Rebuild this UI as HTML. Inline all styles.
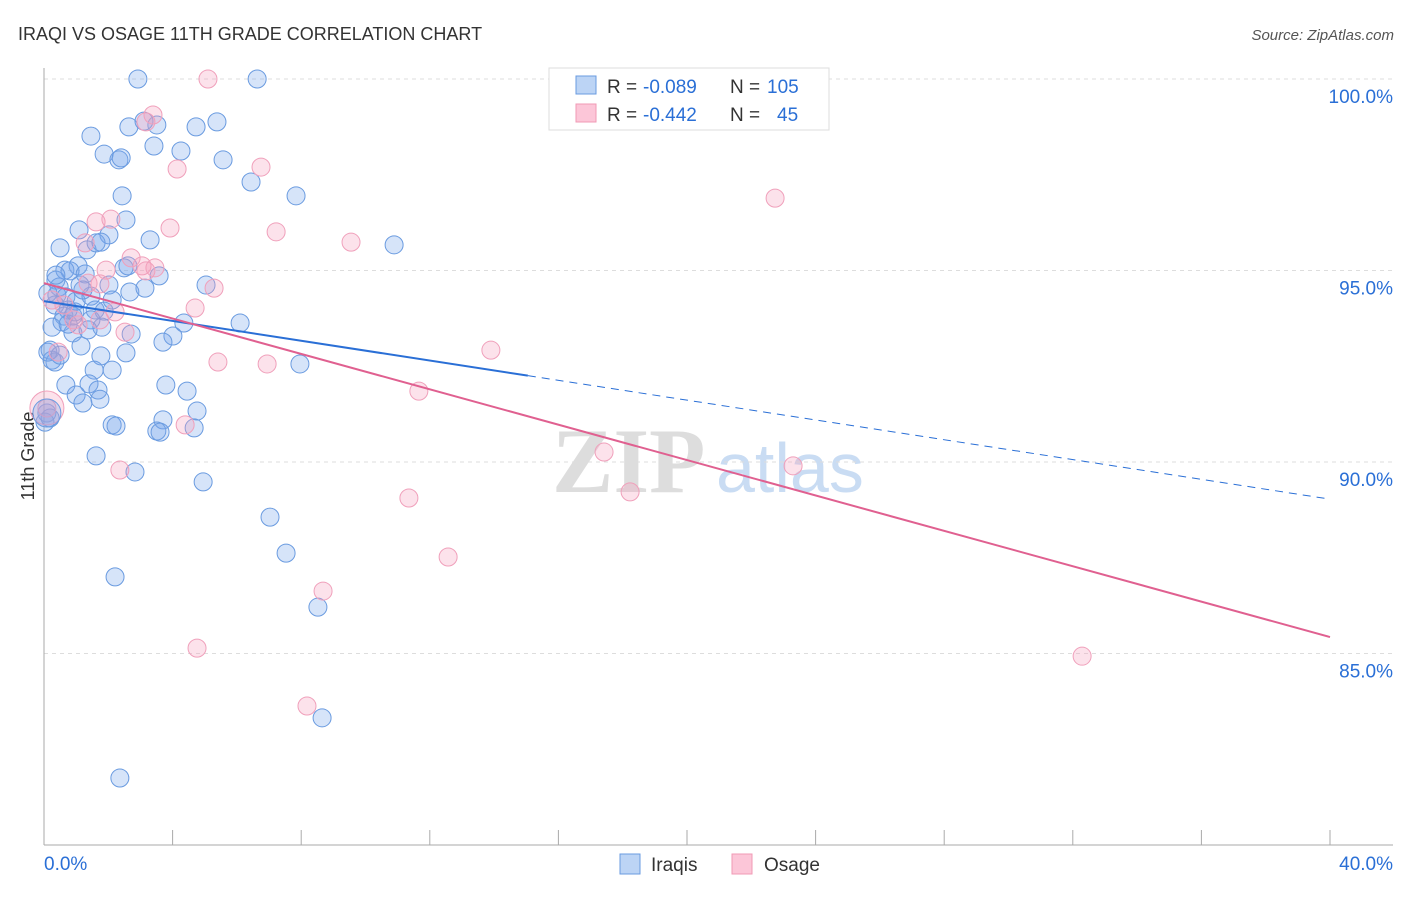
<!DOCTYPE html>
<html><head><meta charset="utf-8"><style>
body{margin:0;background:#fff;font-family:"Liberation Sans",sans-serif}
svg text{font-family:"Liberation Sans",sans-serif}
</style></head><body>
<svg id="c" width="1406" height="892">
<text x="18" y="40" font-size="18" fill="#333">IRAQI VS OSAGE 11TH GRADE CORRELATION CHART</text>
<text x="1394" y="40" font-size="15" fill="#555" font-style="italic" text-anchor="end">Source: ZipAtlas.com</text>
<text x="34" y="456" font-size="18" fill="#333" transform="rotate(-90 34 456)" text-anchor="middle">11th Grade</text>
<g><text x="552" y="492" font-size="92" fill="#ddd" font-family="Liberation Serif" font-weight="bold" style="font-family:'Liberation Serif',serif">ZIP</text><text x="716" y="492" font-size="70" fill="#c9dcf3">atlas</text></g>
<g id="grid"></g><g id="marks"></g><g id="lines"></g>
<g>
<rect x="549" y="68" width="280" height="62" fill="#fff" stroke="#ddd"/>
<rect x="576" y="76" width="20" height="18" fill="#bcd4f5" stroke="#6a9be0"/>
<rect x="576" y="104" width="20" height="18" fill="#fcc6d8" stroke="#f09ab5"/>
<text x="607" y="93" font-size="19" fill="#333">R =</text><text x="643" y="93" font-size="19" fill="#2a6fd6">-0.089</text>
<text x="730" y="93" font-size="19" fill="#333">N =</text><text x="767" y="93" font-size="19" fill="#2a6fd6">105</text>
<text x="607" y="121" font-size="19" fill="#333">R =</text><text x="643" y="121" font-size="19" fill="#2a6fd6">-0.442</text>
<text x="730" y="121" font-size="19" fill="#333">N =</text><text x="777" y="121" font-size="19" fill="#2a6fd6">45</text>
</g>
<g>
<rect x="620" y="854" width="20" height="20" fill="#bcd4f5" stroke="#6a9be0"/><text x="651" y="871" font-size="19" fill="#333">Iraqis</text>
<rect x="732" y="854" width="20" height="20" fill="#fcc6d8" stroke="#f09ab5"/><text x="764" y="871" font-size="19" fill="#333">Osage</text>
</g>
</svg>
<script>
const blueX=[2.92,6.63,1.46,2.64,3.51,3.11,4.73,5.38,3.42,4.26,1.87,2.33,2.40,5.57,6.44,7.84,2.43,2.55,1.09,2.02,3.30,10.89,0.50,1.34,1.62,1.77,1.06,0.65,0.81,1.28,2.49,2.61,3.58,0.37,0.47,1.12,2.02,2.67,3.14,5.04,0.40,0.68,1.00,1.46,0.34,0.75,1.59,1.87,0.62,0.90,1.46,0.56,1.80,4.35,6.10,0.90,2.71,4.01,3.70,1.15,0.19,1.77,2.55,7.96,0.25,0.34,2.12,1.56,0.68,1.40,1.68,3.79,4.45,1.00,1.21,1.74,4.76,3.70,2.12,2.24,3.51,3.61,4.67,1.62,2.83,4.95,7.03,7.53,2.21,8.52,8.65,2.36,0.09,0.03,0.19,0.37,0.12,0.25,0.12,0.50,2.12,1.37,0.75,0.96,1.21];
const blueY=[100,100,98.51,98.75,98.80,98.90,98.75,98.88,98.25,98.12,98.04,97.89,97.94,97.89,97.31,96.95,96.95,96.32,96.06,95.93,95.80,95.67,95.59,95.54,95.72,95.74,95.12,95.01,94.99,94.91,95.07,95.12,94.86,94.75,94.57,94.62,94.62,94.44,94.54,94.62,94.36,94.31,94.20,94.33,94.10,93.97,93.97,93.94,93.81,93.81,93.71,93.66,93.52,93.63,93.63,93.37,93.34,93.29,93.13,93.03,92.92,92.77,92.85,92.56,92.66,92.61,92.40,92.40,92.01,92.04,91.88,92.01,91.85,91.75,91.54,91.64,91.33,91.10,90.97,90.94,90.81,90.78,90.89,90.16,89.74,89.48,88.56,87.62,87.00,86.21,83.32,81.75,91.28,91.04,91.15,94.88,94.41,93.52,92.87,92.79,94.23,93.45,93.60,93.92,94.49];
const pinkX=[5.10,3.39,3.17,6.75,4.14,22.74,1.62,2.08,3.92,7.22,9.55,1.28,2.71,3.05,3.45,1.93,3.17,5.29,1.74,1.37,4.70,2.21,0.93,1.74,2.52,0.44,13.90,5.41,6.94,11.66,4.39,17.42,2.36,23.30,11.35,18.23,12.57,8.68,4.76,32.29,8.18,0.09,0.62,0.25,1.06];
const pinkY=[100,99.06,98.88,97.70,97.65,96.89,96.27,96.34,96.11,96.01,95.74,95.72,95.33,95.12,95.07,95.01,94.99,94.54,94.65,94.67,94.02,93.92,93.71,93.71,93.39,92.87,92.92,92.61,92.56,91.85,90.97,90.26,89.79,89.90,89.06,89.22,87.52,86.63,85.14,84.93,83.63,91.41,94.10,94.23,93.58];
const bigBlue=[0.09,91.28], bigPink=[0.09,91.41];
const blueTrend=[94.20,89.03], blueSolidEnd=15.05;
const pinkTrend=[94.67,85.43];
const yTicks=[100,95,90,85];
const xTickLabels=["0.0%","40.0%"];
const sx=v=>44+v*32.15, sy=v=>79+(100-v)*38.3;
const NS="http://www.w3.org/2000/svg";
function mk(t,a,p){const e=document.createElementNS(NS,t);for(const k in a)e.setAttribute(k,a[k]);p.appendChild(e);return e;}
const g=document.getElementById('grid'),m=document.getElementById('marks'),L=document.getElementById('lines');
yTicks.forEach(t=>{const l=mk('line',{x1:44,x2:1393,y1:sy(t),y2:sy(t),stroke:'#ddd','stroke-dasharray':'4,4'},g);


const tx=mk('text',{x:1393,y:sy(t)+24,'font-size':19,fill:'#2a6fd6','text-anchor':'end'},g);tx.textContent=t.toFixed(1)+'%';

});
const ax=mk('line',{x1:44,x2:44,y1:68,y2:845,stroke:'#aaa'},g);


const bx=mk('line',{x1:44,x2:1393,y1:845,y2:845,stroke:'#aaa'},g);


for(let i=0;i<=10;i++){const tk=mk('line',{x1:sx(i*4),x2:sx(i*4),y1:830,y2:845,stroke:'#aaa'},g);

}
[[0,'start',44],[40,'end',1393]].forEach((o,i)=>{const tx=mk('text',{x:o[2],y:870,'font-size':19,fill:'#2a6fd6','text-anchor':o[1]},g);tx.textContent=xTickLabels[i];

});
function dot(x,y,r,f,s,n){const c=mk('circle',{cx:sx(x),cy:sy(y),r:r,fill:f,stroke:s,'stroke-width':1},m);

}
blueX.forEach((x,i)=>dot(x,blueY[i],9,'rgba(120,165,235,0.3)','#6a9be0','iraqis-point'));
pinkX.forEach((x,i)=>dot(x,pinkY[i],9,'rgba(245,160,190,0.3)','#f0a0bb','osage-point'));
dot(bigPink[0],bigPink[1],17,'rgba(245,160,190,0.3)','#f0a0bb','osage-point');
dot(bigBlue[0],bigBlue[1],14,'rgba(120,165,235,0.3)','#6a9be0','iraqis-point');
const bt=x=>blueTrend[0]+(blueTrend[1]-blueTrend[0])*x/40, pt=x=>pinkTrend[0]+(pinkTrend[1]-pinkTrend[0])*x/40;
let l1=mk('line',{x1:sx(0),y1:sy(bt(0)),x2:sx(blueSolidEnd),y2:sy(bt(blueSolidEnd)),stroke:'#2a6fd6','stroke-width':2},L);


let l2=mk('line',{x1:sx(blueSolidEnd),y1:sy(bt(blueSolidEnd)),x2:sx(40),y2:sy(bt(40)),stroke:'#2a6fd6','stroke-width':1,'stroke-dasharray':'8,6'},L);


let l3=mk('line',{x1:sx(0),y1:sy(pt(0)),x2:sx(40),y2:sy(pt(40)),stroke:'#e06090','stroke-width':2},L);


</script>
</body></html>
